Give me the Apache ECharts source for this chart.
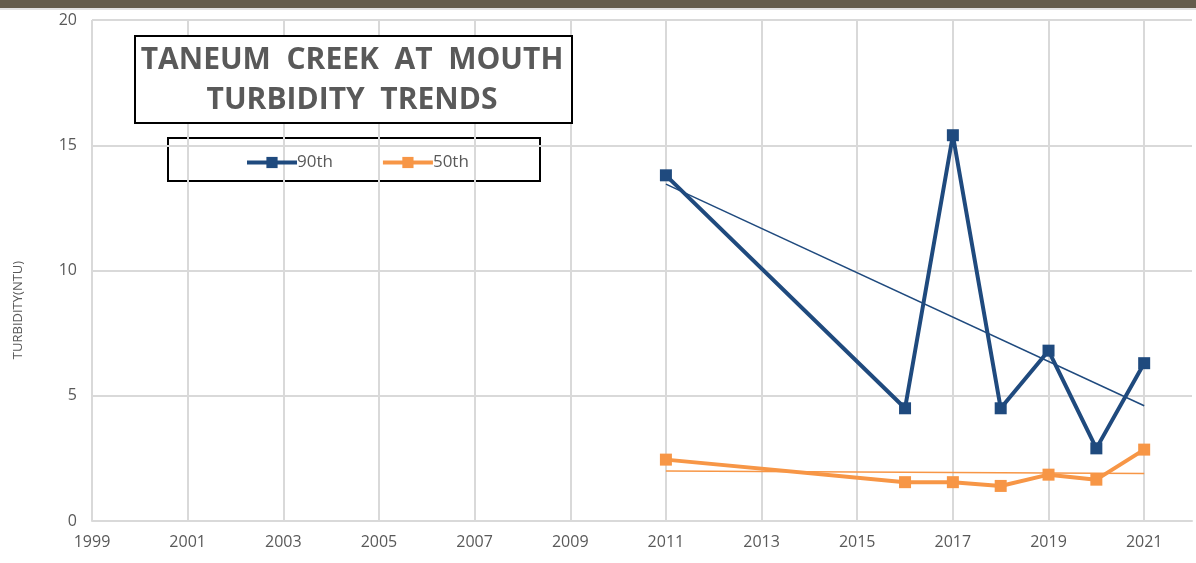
<!DOCTYPE html>
<html>
<head>
<meta charset="utf-8" />
<title>Taneum Creek turbidity</title>
<script src="https://cdn.jsdelivr.net/npm/echarts@6/dist/echarts.min.js"></script>
<style>
  html, body { margin: 0; padding: 0; background: #fff; }
  #topbar { position: absolute; left: 0; top: 0; width: 1196px; height: 8px; background: #655d4d; }
  #topline { position: absolute; left: 0; top: 8px; width: 1196px; height: 2px; background: #e3e3e3; }
  #main { position: absolute; left: 0; top: 0; width: 1196px; height: 563px; }
</style>
</head>
<body>
<div id="main"></div>
<div id="topbar"></div>
<div id="topline"></div>
<script>
// sampling years
var years = [2011, 2016, 2017, 2018, 2019, 2020, 2021];
// 90th and 50th percentile turbidity (NTU)
var p90 = [13.8, 4.5, 15.4, 4.5, 6.8, 2.9, 6.3];
var p50 = [2.45, 1.55, 1.55, 1.4, 1.85, 1.65, 2.85];
// trendline end points
var trendYears = [2011, 2021];
var trend90 = [13.45, 4.6];
var trend50 = [2.0, 1.9];

var blue = '#1f4a7e';
var orange = '#f79646';
var grey = '#595959';

function pairs(xs, ys) {
  var out = [];
  for (var i = 0; i < xs.length; i++) out.push([xs[i], ys[i]]);
  return out;
}

var chart = echarts.init(document.getElementById('main'));

chart.setOption({
  backgroundColor: '#fff',
  animation: false,
  textStyle: { fontFamily: 'Open Sans, sans-serif' },
  grid: { left: 92, right: 4, top: 20, bottom: 42 },
  xAxis: {
    type: 'value',
    min: 1999,
    max: 2022,
    interval: 2,
    axisLine: { show: true, lineStyle: { color: '#d9d9d9', width: 2 } },
    axisTick: { show: false },
    axisLabel: {
      color: grey, fontSize: 16, margin: 13, showMaxLabel: false,
      formatter: function (v) { return v === 2022 ? '' : String(v); }
    },
    splitLine: { show: true, showMaxLine: false, lineStyle: { color: '#d9d9d9', width: 2 } }
  },
  yAxis: {
    type: 'value',
    min: 0,
    max: 20,
    interval: 5,
    axisLine: { show: false },
    axisTick: { show: false },
    axisLabel: { color: grey, fontSize: 16, margin: 15 },
    splitLine: { lineStyle: { color: '#d9d9d9', width: 2 } }
  },
  legend: {
    data: ['90th', '50th'],
    left: 240,
    top: 149,
    itemGap: 48,
    itemWidth: 50,
    itemHeight: 14,
    lineStyle: { width: 4 },
    textStyle: { color: grey, fontSize: 17, padding: [0, 0, 0, -5] }
  },
  graphic: [
    {
      type: 'rect', left: 134, top: 35, z: 10,
      shape: { width: 437, height: 87 },
      style: { fill: '#fff', stroke: '#000', lineWidth: 2 }
    },
    {
      type: 'text', x: 352, y: 60, z: 11,
      style: {
        text: 'TANEUM  CREEK  AT  MOUTH', fill: grey,
        font: 'bold 30px "Open Sans", sans-serif',
        align: 'center', verticalAlign: 'middle'
      }
    },
    {
      type: 'text', x: 352, y: 100, z: 11,
      style: {
        text: 'TURBIDITY  TRENDS', fill: grey,
        font: 'bold 30px "Open Sans", sans-serif',
        align: 'center', verticalAlign: 'middle'
      }
    },
    {
      type: 'rect', left: 167, top: 137, z: 0,
      shape: { width: 372, height: 43 },
      style: { fill: '#fff', stroke: '#000', lineWidth: 2 }
    },
    {
      type: 'text', x: 18, y: 310, rotation: Math.PI / 2, z: 11,
      style: {
        text: 'TURBIDITY(NTU)', fill: grey,
        font: '13px "Open Sans", sans-serif',
        align: 'center', verticalAlign: 'middle'
      }
    }
  ],
  series: [
    {
      name: '90th', type: 'line', data: pairs(years, p90),
      symbol: 'rect', symbolSize: 12,
      lineStyle: { color: blue, width: 4 },
      itemStyle: { color: blue }, z: 3
    },
    {
      name: '50th', type: 'line', data: pairs(years, p50),
      symbol: 'rect', symbolSize: 12,
      lineStyle: { color: orange, width: 4 },
      itemStyle: { color: orange }, z: 3
    },
    {
      name: '90th trend', type: 'line', data: pairs(trendYears, trend90),
      symbol: 'none', lineStyle: { color: blue, width: 1.5 }, z: 2
    },
    {
      name: '50th trend', type: 'line', data: pairs(trendYears, trend50),
      symbol: 'none', lineStyle: { color: orange, width: 1.5 }, z: 2
    }
  ]
});
</script>
</body>
</html>
